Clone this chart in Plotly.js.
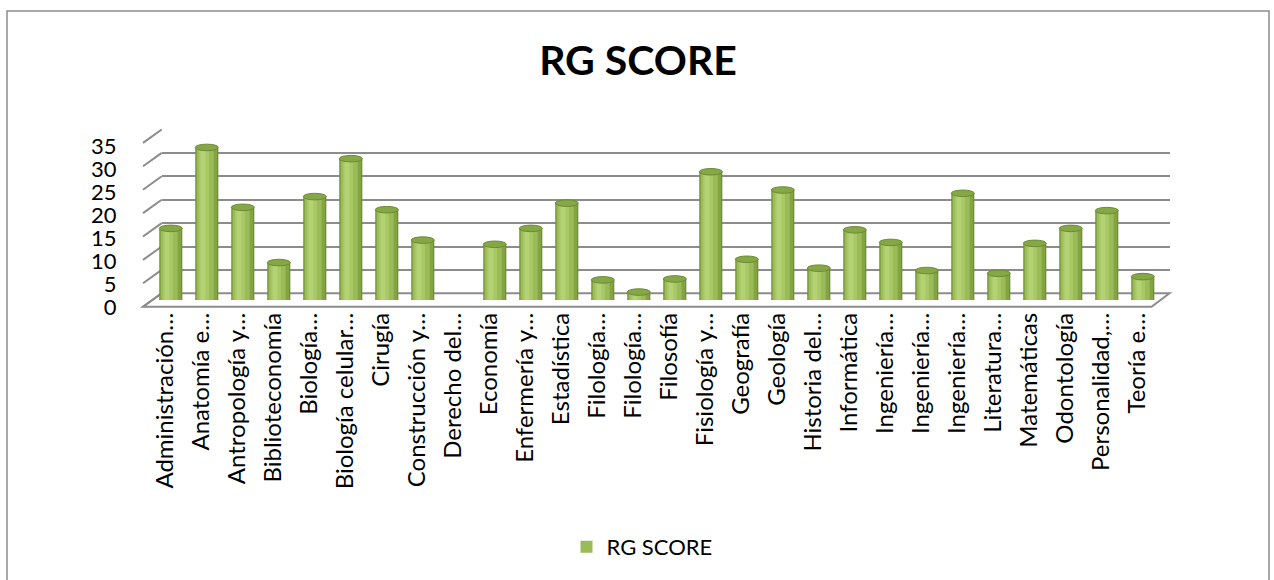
<!DOCTYPE html>
<html>
<head>
<meta charset="utf-8">
<script src="https://cdn.plot.ly/plotly-3.0.1.min.js"></script>
<style>html,body{margin:0;padding:0;background:#fff;}#chart{width:1274px;height:580px;}</style>
</head>
<body>
<div id="chart"></div>
<script>
// ---- data ----
const categories = [
  "Administración\u2026", "Anatomía e\u2026", "Antropología y\u2026", "Biblioteconomía",
  "Biología\u2026", "Biología celular\u2026", "Cirugía", "Construcción y\u2026",
  "Derecho del\u2026", "Economía", "Enfermería y\u2026", "Estadística",
  "Filología\u2026", "Filología\u2026", "Filosofía", "Fisiología y\u2026",
  "Geografía", "Geología", "Historia del\u2026", "Informática",
  "Ingeniería\u2026", "Ingeniería\u2026", "Ingeniería\u2026", "Literatura\u2026",
  "Matemáticas", "Odontología", "Personalidad,\u2026", "Teoría e\u2026"
];
const rgScore = [
  15.3, 32.6, 19.8, 8.0, 22.1, 30.2, 19.3, 12.8,
  0, 11.9, 15.3, 20.7, 4.3, 1.7, 4.5, 27.4,
  8.7, 23.5, 6.8, 15.0, 12.3, 6.3, 22.8, 5.7,
  12.1, 15.3, 19.1, 5.0
];
const seriesName = "RG SCORE";
const yTicks = [0, 5, 10, 15, 20, 25, 30, 35];

// ---- layout helpers (pixel -> paper) ----
const W = 1274, H = 580;
const fx = px => px / W;
const fy = py => 1 - py / H;
const idx = categories.map((_, i) => i);
const FONT = "Lato, 'Open Sans', sans-serif";

// 3D geometry in pixels
const backL = 161.7, backR = 1169.5, back0 = 293.3;
const frontL = 143, frontR = 1151.5, front0 = 306.7;
const pxPerUnit = 4.68;

const traces = [];
// grid subplot (back wall) - drawn first
traces.push({type: "scatter", x: idx, y: rgScore, xaxis: "x", yaxis: "y", mode: "markers",
  marker: {opacity: 0}, hoverinfo: "skip", showlegend: false});
// label subplot
traces.push({type: "scatter", x: idx, y: rgScore, xaxis: "x2", yaxis: "y2", mode: "markers",
  marker: {opacity: 0}, hoverinfo: "skip", showlegend: false});
// cylinder layers (bars subplot drawn last)
const layers = [
  {w: 0.64, o: -0.32, c: "#6c8a33", legend: false},
  {w: 0.59, o: -0.30, c: "#84a444", legend: false},
  {w: 0.46, o: -0.27, c: "#9bbb59", legend: true},
  {w: 0.28, o: -0.22, c: "#a8c866", legend: false},
  {w: 0.13, o: -0.17, c: "#b3d274", legend: false}
];
layers.forEach(L => {
  traces.push({type: "bar", x: idx, y: rgScore, xaxis: "x3", yaxis: "y3",
    width: L.w, offset: L.o, name: seriesName, showlegend: L.legend,
    marker: {color: L.c, line: {width: 0}}, hoverinfo: "y"});
});

const shapes = [];
// chart border
shapes.push({type: "rect", xref: "paper", yref: "paper", x0: fx(7), x1: fx(1269), y0: -0.02, y1: fy(11),
  line: {color: "#8c8c8c", width: 1.5}, fillcolor: "rgba(0,0,0,0)", layer: "below"});
// floor
shapes.push({type: "path", xref: "paper", yref: "paper",
  path: `M ${fx(frontL)} ${fy(front0)} L ${fx(frontR)} ${fy(front0)} L ${fx(backR)} ${fy(back0)} L ${fx(backL)} ${fy(back0)} Z`,
  line: {color: "#8c8c8c", width: 2}, fillcolor: "#ffffff", layer: "below"});
// left side wall slanted grid lines
yTicks.forEach(v => {
  shapes.push({type: "line", xref: "paper", yref: "paper",
    x0: fx(frontL), y0: fy(front0 - v * pxPerUnit), x1: fx(backL), y1: fy(back0 - v * pxPerUnit),
    line: {color: "#8c8c8c", width: 2}, layer: "below"});
});
// cylinder bottoms and tops
rgScore.forEach((v, i) => {
  if (v <= 0) return;
  shapes.push({type: "circle", xref: "x3", yref: "y3", x0: i - 0.32, x1: i + 0.32, y0: -0.7, y1: 0.7,
    fillcolor: "#7e9e40", line: {width: 0}, layer: "below"});
  shapes.push({type: "circle", xref: "x3", yref: "y3", x0: i - 0.32, x1: i + 0.32, y0: v - 0.7, y1: v + 0.7,
    fillcolor: "#86a746", line: {color: "#6c8a33", width: 1}, layer: "above"});
});

const layout = {
  width: W, height: H, autosize: false,
  margin: {l: 0, r: 0, t: 0, b: 0, pad: 0},
  paper_bgcolor: "#ffffff", plot_bgcolor: "rgba(0,0,0,0)",
  font: {family: FONT, color: "#000"},
  barmode: "overlay",
  title: {text: "<b>RG SCORE</b>", x: fx(638), xanchor: "center", xref: "paper",
    y: fy(61), yanchor: "middle", yref: "paper", font: {size: 41, family: FONT, color: "#000"}},
  // back wall grid
  xaxis: {domain: [fx(backL), fx(backR)], anchor: "y", range: [-0.5, 27.5], showgrid: false,
    zeroline: false, showticklabels: false, showline: false, ticks: ""},
  yaxis: {domain: [fy(back0), fy(back0 - 35 * pxPerUnit)], anchor: "x", range: [0, 35], tickmode: "array",
    tickvals: yTicks, showgrid: true, gridcolor: "#8c8c8c", gridwidth: 2, zeroline: false,
    showticklabels: false, showline: false, ticks: ""},
  // tick labels
  xaxis2: {domain: [fx(146.8), fx(1154.8)], anchor: "y2", range: [-0.5, 27.5], showgrid: false,
    zeroline: false, showline: false, tickmode: "array", tickvals: idx, ticktext: categories,
    tickangle: -90, ticks: "", tickfont: {size: 24, family: FONT, color: "#000"}},
  yaxis2: {domain: [fy(307), fy(146)], anchor: "free", position: fx(frontL), range: [0, 35],
    tickmode: "array", tickvals: yTicks, showgrid: false, zeroline: false, showline: false,
    ticks: "outside", ticklen: 22, tickcolor: "rgba(0,0,0,0)",
    tickfont: {size: 22, family: FONT, color: "#000"}},
  // bars
  xaxis3: {domain: [fx(152.8), fx(1160.8)], anchor: "y3", range: [-0.5, 27.5], showgrid: false,
    zeroline: false, showticklabels: false, showline: false, ticks: ""},
  yaxis3: {domain: [fy(300), fy(300 - 35 * pxPerUnit)], anchor: "x3", range: [0, 35], showgrid: false,
    zeroline: false, showticklabels: false, showline: false, ticks: ""},
  showlegend: true,
  legend: {orientation: "h", x: fx(642), xanchor: "center", y: fy(547), yanchor: "middle",
    font: {size: 22, family: FONT, color: "#000"}, bgcolor: "rgba(0,0,0,0)"},
  shapes: shapes
};

Plotly.newPlot("chart", traces, layout, {displayModeBar: false, staticPlot: true});
</script>
</body>
</html>
